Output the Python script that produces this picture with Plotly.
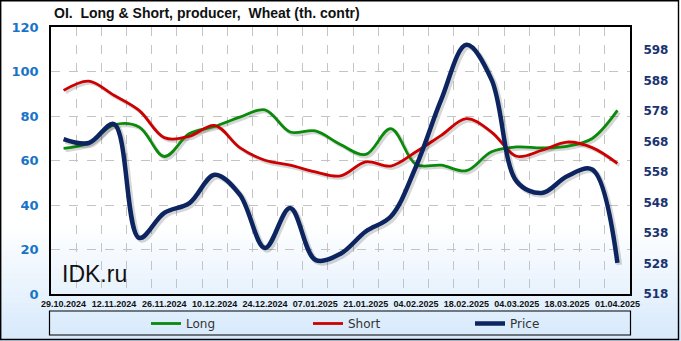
import plotly.graph_objects as go
from datetime import datetime, timedelta

# ---------------- data ----------------
dates = ["2024-10-29", "2024-11-05", "2024-11-12", "2024-11-19", "2024-11-26",
         "2024-12-03", "2024-12-10", "2024-12-17", "2024-12-24", "2024-12-31",
         "2025-01-07", "2025-01-14", "2025-01-21", "2025-01-28", "2025-02-04",
         "2025-02-11", "2025-02-18", "2025-02-25", "2025-03-04", "2025-03-11",
         "2025-03-18", "2025-03-25", "2025-04-01"]
long_oi = [65.4, 67.9, 76.0, 75.1, 61.8, 72.1, 75.3, 79.5, 82.8, 72.8, 73.3, 67.2,
           62.7, 74.3, 58.2, 57.9, 55.4, 63.9, 66.1, 65.7, 66.4, 69.9, 82.5]
short_oi = [91.5, 95.7, 89.3, 82.5, 70.3, 70.9, 75.8, 65.8, 60.1, 57.9, 54.9, 53.1,
            59.4, 57.5, 63.9, 71.3, 78.8, 72.8, 61.9, 64.6, 68.3, 65.8, 58.7]
price = [568.8, 567.5, 573.7, 536.4, 544.6, 547.8, 557.1, 550.6, 533.1, 546.2,
         529.2, 531.2, 538.5, 543.4, 559.8, 581.7, 599.7, 588.3, 554.9, 551.1,
         556.6, 558.8, 528.2]
left_ticks = [0, 20, 40, 60, 80, 100, 120]
right_ticks = [518, 528, 538, 548, 558, 568, 578, 588, 598]
title_text = "OI.\u00a0 Long & Short, producer,\u00a0 Wheat (th. contr)"

# ---------------- layout geometry ----------------
W, H = 681, 341
L, R, T, B = 51, 51, 27, 47
PW, PH = W - L - R, H - T - B

def px_x(px):
    return (px - L) / PW

def px_y(py):
    return (H - B - py) / PH

x = [datetime.strptime(d, "%Y-%m-%d") for d in dates]
day = timedelta(days=1)
x_range = [x[0] - 3.5 * day, x[-1] + 3.5 * day]
px_per_day = PW / ((x_range[1] - x_range[0]) / day)
left_px_per_unit = PH / (left_ticks[-1] - left_ticks[0])
right_top = 518 + PH / 3.05
right_px_per_unit = PH / (right_top - 518)

# shadow offsets (2 px right & down)
sx = [d + timedelta(days=2.0 / px_per_day) for d in x]
shadow = "rgba(0,0,0,0.16)"

fig = go.Figure()
fig.add_trace(go.Scatter(x=sx, y=[v - 2 / left_px_per_unit for v in long_oi], mode="lines",
                         line=dict(color=shadow, width=3.5, shape="spline"),
                         showlegend=False, hoverinfo="skip"))
fig.add_trace(go.Scatter(x=sx, y=[v - 2 / left_px_per_unit for v in short_oi], mode="lines",
                         line=dict(color=shadow, width=3.5, shape="spline"),
                         showlegend=False, hoverinfo="skip"))
fig.add_trace(go.Scatter(x=sx, y=[v - 2 / right_px_per_unit for v in price], mode="lines",
                         line=dict(color=shadow, width=5.5, shape="spline"),
                         showlegend=False, hoverinfo="skip", yaxis="y2"))
fig.add_trace(go.Scatter(x=x, y=long_oi, name="Long", mode="lines",
                         line=dict(color="#0a8a0a", width=2.8, shape="spline")))
fig.add_trace(go.Scatter(x=x, y=short_oi, name="Short", mode="lines",
                         line=dict(color="#cc0000", width=2.8, shape="spline")))
fig.add_trace(go.Scatter(x=x, y=price, name="Price", mode="lines",
                         line=dict(color="#0c2460", width=4.5, shape="spline"),
                         yaxis="y2"))

# background gradient strips (white -> light blue toward bottom)
shapes = []
g0, g1 = 225, H
n = 24
c_top = (255, 255, 255)
c_bot = (214, 233, 251)
for i in range(n):
    y0p = g0 + (g1 - g0) * i / n
    y1p = g0 + (g1 - g0) * (i + 1) / n
    t = (i + 0.5) / n
    c = tuple(round(c_top[k] + (c_bot[k] - c_top[k]) * t) for k in range(3))
    shapes.append(dict(type="rect", xref="paper", yref="paper",
                       x0=px_x(0), x1=px_x(W), y0=px_y(y1p + 0.5), y1=px_y(y0p),
                       fillcolor="rgb(%d,%d,%d)" % c, line=dict(width=0), layer="below"))
# legend box
shapes.append(dict(type="rect", xref="paper", yref="paper",
                   x0=px_x(49.5), x1=px_x(630.5), y0=px_y(335), y1=px_y(311),
                   line=dict(color="black", width=1.2), layer="above"))
# outer frame
shapes.append(dict(type="rect", xref="paper", yref="paper",
                   x0=px_x(0.7), x1=px_x(678.5), y0=px_y(339.5), y1=px_y(0.7),
                   line=dict(color="black", width=1.4), layer="above"))

fig.update_layout(
    width=W, height=H,
    margin=dict(l=L, r=R, t=T, b=B, autoexpand=False),
    paper_bgcolor="white",
    plot_bgcolor="rgba(0,0,0,0)",
    shapes=shapes,
    showlegend=True,
    legend=dict(orientation="h", x=px_x(146), xanchor="left", y=px_y(323.5), yanchor="middle",
                bgcolor="rgba(0,0,0,0)", borderwidth=0, itemwidth=30,
                entrywidth=117, entrywidthmode="pixels",
                font=dict(family="Verdana, DejaVu Sans", size=12, color="#333333")),
    annotations=[
        dict(text="<b>" + title_text + "</b>", xref="paper", yref="paper",
             x=px_x(52), y=px_y(13), xanchor="left", yanchor="middle", showarrow=False,
             font=dict(family="Liberation Sans, Arial", size=14, color="#111111")),
        dict(text="IDK.ru", xref="paper", yref="paper",
             x=px_x(60), y=px_y(274), xanchor="left", yanchor="middle", showarrow=False,
             font=dict(family="Liberation Sans, Arial", size=23, color="#111111")),
    ],
    xaxis=dict(
        type="date", range=x_range,
        tick0=dates[0], dtick=14 * 86400000, tickformat="%d.%m.%Y",
        showgrid=False, ticks="", ticklabelstandoff=0, tickangle=0,
        tickfont=dict(family="Liberation Sans, Arial", size=9, color="#111111", weight="bold"),
        showline=True, linecolor="black", linewidth=1.5, mirror=True,
        minor=dict(tick0=x[0] + 3.5 * day, dtick=7 * 86400000, showgrid=True,
                   gridcolor="#c4c4c4", griddash="dash", gridwidth=1),
        zeroline=False,
    ),
    yaxis=dict(
        range=[left_ticks[0], left_ticks[-1]], tickvals=left_ticks,
        showgrid=True, gridcolor="#c4c4c4", griddash="dash", gridwidth=1,
        ticks="outside", ticklen=8, tickcolor="rgba(0,0,0,0)",
        tickfont=dict(family="Verdana, DejaVu Sans", size=13, color="#1874c8", weight="bold"),
        showline=True, linecolor="black", linewidth=1.5, mirror=True, zeroline=False,
    ),
    yaxis2=dict(
        overlaying="y", side="right", range=[518, right_top], tickvals=right_ticks,
        showgrid=False, ticks="outside", ticklen=10, tickcolor="rgba(0,0,0,0)",
        tickfont=dict(family="Verdana, DejaVu Sans", size=12, color="#1a3370", weight="bold"),
        zeroline=False, showline=False,
    ),
)

fig.write_html("out.html")
